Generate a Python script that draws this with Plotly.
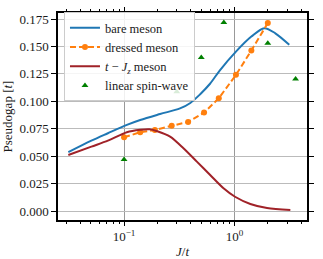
import plotly.graph_objects as go

# bare meson
bare_x = [0.0313, 0.0506, 0.0714, 0.106, 0.14, 0.212, 0.321, 0.398, 0.489, 0.60, 0.74, 1.03, 1.42, 1.86, 2.34, 3.13]
bare_y = [0.0536, 0.0641, 0.0709, 0.0785, 0.0830, 0.0884, 0.0935, 0.0985, 0.1065, 0.1160, 0.1285, 0.1453, 0.1590, 0.1667, 0.1620, 0.1515]

# dressed meson
dressed_x = [0.1, 0.14, 0.19, 0.27, 0.38, 0.53, 0.72, 1.03, 1.42, 2.0]
dressed_y = [0.0672, 0.0718, 0.0739, 0.0778, 0.0812, 0.0897, 0.1028, 0.1241, 0.1463, 0.1713]

# t - Jz meson
tjz_x = [0.0313, 0.0506, 0.0714, 0.106, 0.14, 0.17, 0.2, 0.261, 0.345, 0.456, 0.602, 0.795, 1.01, 1.39, 1.97, 3.2]
tjz_y = [0.0511, 0.0587, 0.0641, 0.0718, 0.0740, 0.0745, 0.0727, 0.0678, 0.0572, 0.0450, 0.0328, 0.0207, 0.0130, 0.0064, 0.0027, 0.0009]

# linear spin-wave
lsw_x = [0.1, 0.3, 0.5, 0.8, 2.0, 3.57]
lsw_y = [0.047, 0.1088, 0.140, 0.1718, 0.153, 0.1204]

y_ticks = [0.0, 0.025, 0.05, 0.075, 0.1, 0.125, 0.15, 0.175]
x_ticks = [0.1, 1.0]
x_ticktext = ["10<sup>−1</sup>", "10<sup>0</sup>"]
x_minor = [0.03, 0.04, 0.05, 0.06, 0.07, 0.08, 0.09,
           0.2, 0.3, 0.4, 0.5, 0.6, 0.7, 0.8, 0.9, 2, 3, 4]

font = "Liberation Serif"

fig = go.Figure()
fig.add_trace(go.Scatter(x=bare_x, y=bare_y, mode="lines", name="bare meson",
                         line=dict(color="#1f77b4", width=2, shape="spline", smoothing=0.9)))
fig.add_trace(go.Scatter(x=dressed_x, y=dressed_y, mode="lines+markers", name="dressed meson",
                         line=dict(color="#ff7f0e", width=2, dash="6px,3px"),
                         marker=dict(color="#ff7f0e", size=6, symbol="circle")))
fig.add_trace(go.Scatter(x=tjz_x, y=tjz_y, mode="lines",
                         name="<i>t</i> − <i>J<sub>z</sub></i> meson",
                         line=dict(color="#a02228", width=2, shape="spline", smoothing=0.8)))
fig.add_trace(go.Scatter(x=lsw_x, y=lsw_y, mode="markers", name="linear spin-wave",
                         marker=dict(color="green", size=6, symbol="triangle-up")))

fig.update_layout(
    width=323, height=259,
    margin=dict(l=58, r=16, t=13, b=39),
    paper_bgcolor="white", plot_bgcolor="white",
    font=dict(family=font, size=13, color="#1a1a1a"),
    showlegend=True,
    legend=dict(x=0.024, y=1.004, xanchor="left", yanchor="top",
                bgcolor="rgba(255,255,255,0.85)", bordercolor="#cccccc", borderwidth=1,
                font=dict(family=font, size=12.5), itemwidth=30, tracegroupgap=0),
    xaxis=dict(type="log", range=[-1.598, 0.656], automargin=False,
               tickvals=x_ticks, ticktext=x_ticktext,
               ticks="outside", ticklen=4, tickcolor="black", tickwidth=1,
               showgrid=True, gridcolor="#999999", gridwidth=1,
               showline=True, linecolor="black", linewidth=1.5, mirror="ticks",
               minor=dict(tickvals=x_minor, ticks="outside", ticklen=2, tickcolor="black", showgrid=False),
               title=dict(text="<i>J</i>/<i>t</i>", standoff=4, font=dict(size=13)),
               zeroline=False),
    yaxis=dict(range=[-0.0082, 0.1805], tickvals=y_ticks, tickformat=".3f", automargin=False,
               ticks="outside", ticklen=5, tickcolor="black", tickwidth=1,
               showgrid=True, gridcolor="#bbbbbb", gridwidth=1,
               showline=True, linecolor="black", linewidth=1.5, mirror="ticks",
               title=dict(text="Pseudogap [<i>t</i>]", standoff=4, font=dict(size=13)),
               zeroline=False),
)

fig.write_html("out.html", config={"displayModeBar": False},
               post_script="document.body.style.margin='0';")
